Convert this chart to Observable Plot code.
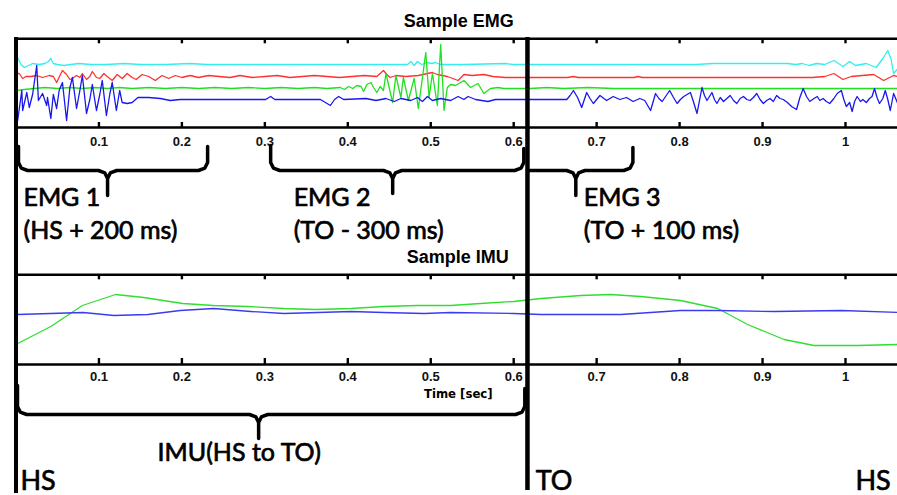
<!DOCTYPE html>
<html>
<head>
<meta charset="utf-8">
<script src="https://cdn.jsdelivr.net/npm/d3@7"></script>
<script src="https://cdn.jsdelivr.net/npm/@observablehq/plot@0.6"></script>
<style>
  html, body { margin: 0; padding: 0; background: #fff; }
  #chart svg { display: block; }
</style>
</head>
<body>
<div id="chart"></div>
<script>
// ---------- DATA ----------
// EMG channels: [time in ms, deviation from the channel's resting level]
const emgCyan = [[0,11],[3,5],[6,0],[10,-3],[15,-1],[20,1],[28,0],[35,1],[39,3],[42,6],[45,1],[50,0],[58,-1],[66,0],[76,1],[90,0],[110,0],[130,1],[150,0],[180,0],[210,1],[230,0],[300,0],[400,0],[472,0],[476,3],[480,-1],[484,3],[489,0],[496,2],[501,1],[506,2],[511,0],[540,0],[590,1],[600,0],[820,0],[840,1],[930,1],[940,0],[948,1],[956,-1],[965,1],[975,0],[986,4],[997,-2],[1005,3],[1012,-1],[1025,1],[1037,-3],[1045,6],[1051,14],[1055,5],[1058,-9],[1063,-4]];
const emgRed = [[0,3],[4,3],[8,-2],[12,0],[18,0],[25,1],[32,-1],[40,1],[45,0],[49,-6],[53,1],[56,6],[61,2],[65,-3],[68,-2],[73,1],[77,-1],[80,3],[85,-3],[89,0],[92,5],[97,-1],[101,-2],[106,3],[110,0],[116,-4],[122,2],[128,-2],[134,3],[140,-1],[145,-3],[152,2],[160,0],[168,-4],[176,1],[184,-2],[192,1],[200,-1],[210,1],[220,-1],[232,1],[245,0],[258,-1],[270,1],[285,-1],[300,0],[315,1],[330,-1],[345,0],[360,1],[375,0],[390,-1],[405,0],[420,1],[435,0],[443,6],[447,2],[451,-1],[458,1],[470,0],[485,1],[496,3],[502,4],[508,2],[520,0],[533,-4],[540,2],[550,1],[564,2],[575,0],[590,-1],[620,-1],[665,-1],[672,0],[678,-1],[745,-1],[750,0],[755,-1],[960,-1],[975,0],[986,3],[997,-3],[1007,0],[1020,1],[1034,2],[1046,-4],[1058,1],[1063,0]];
const emgGreen = [[0,-2],[10,-1],[22,0],[35,1],[50,0],[65,1],[80,0],[95,1],[110,0],[125,1],[140,0],[160,1],[180,0],[200,1],[220,0],[240,1],[260,0],[280,1],[300,0],[320,1],[340,0],[360,1],[375,0],[391,1],[396,-1],[401,2],[406,0],[411,3],[416,2],[419,-3],[423,4],[428,6],[431,1],[435,-4],[439,2],[443,-2],[446,15],[454,-14],[458,13],[464,-9],[467,11],[473,-12],[480,10],[485,-20],[494,36],[498,-9],[502,15],[508,-17],[512,44],[516,-22],[520,1],[524,4],[530,3],[536,6],[540,8],[548,1],[557,5],[564,-5],[572,0],[581,1],[588,0],[620,0],[640,1],[660,0],[690,1],[720,0],[1063,0]];
const emgBlue = [[0,0],[2,-21],[7,9],[8,-11],[13,7],[16,-8],[20,5],[25,34],[27,-1],[32,6],[37,-6],[38,2],[42,-19],[45,5],[49,-9],[52,9],[56,17],[61,-21],[65,12],[68,22],[73,-9],[77,9],[80,24],[85,-14],[89,0],[92,15],[97,-11],[101,5],[104,19],[109,-16],[113,5],[116,17],[121,-11],[125,9],[128,-3],[134,-4],[140,-3],[147,2],[160,2],[174,1],[186,-1],[198,0],[259,0],[301,0],[307,3],[312,0],[367,0],[379,-6],[384,0],[389,3],[395,0],[422,1],[434,-1],[446,1],[456,-2],[464,1],[476,-1],[484,2],[490,-2],[496,3],[502,-1],[512,1],[524,-1],[533,3],[540,0],[545,3],[554,0],[569,-2],[578,0],[609,0],[657,0],[664,0],[668,4],[672,9],[677,2],[682,-8],[688,7],[692,1],[696,-4],[704,4],[712,-1],[720,3],[728,0],[736,2],[744,-2],[752,1],[758,-1],[765,-11],[771,6],[775,1],[779,-2],[788,9],[792,3],[797,-4],[801,0],[805,3],[813,7],[817,-3],[821,-14],[827,12],[830,4],[833,-1],[839,7],[842,0],[845,-4],[849,2],[853,-2],[857,1],[861,4],[865,-1],[869,-4],[873,1],[877,3],[881,0],[885,-1],[889,2],[893,6],[897,0],[901,-4],[905,-1],[909,1],[913,-2],[917,4],[921,1],[925,0],[930,-3],[935,-7],[941,-10],[945,2],[949,11],[953,3],[957,-2],[962,1],[966,3],[969,-1],[973,1],[977,-2],[981,-4],[986,1],[990,6],[995,9],[998,0],[1001,-7],[1005,-3],[1008,-12],[1011,-2],[1014,3],[1018,-2],[1021,0],[1025,-3],[1029,1],[1032,3],[1035,11],[1038,2],[1041,-4],[1045,1],[1048,9],[1051,0],[1054,-11],[1058,6],[1063,-4]];
const emgNames = ["cyan", "red", "green", "blue"];
const emgColors = ["#33eeee", "#ff3030", "#20e020", "#1818ee"];
const emgLevels = [63, 51, 39, 28];   // resting level of each channel in the EMG panel

// IMU channels: [time in ms, value]
const imuGreen = [[0,21],[2,21],[42,38],[80,59],[120,70],[154,67],[201,61],[238,59],[279,58],[323,56],[361,55],[404,56],[443,58],[484,59],[524,59],[560,61],[600,63],[633,66],[681,69],[717,70],[753,68],[801,64],[846,56],[882,40],[926,25],[962,19],[1015,19],[1063,20]];
const imuBlue = [[0,50],[2,50],[81,52],[118,49],[159,50],[198,54],[238,56],[283,53],[323,51],[364,52],[404,53],[443,52],[492,51],[524,52],[600,51],[633,50],[729,50],[801,54],[846,54],[914,53],[995,54],[1063,52]];
const imuColors = ["#30dd30", "#3a3af0"];

// Axis ticks
const tickValues = [0.1, 0.2, 0.3, 0.4, 0.5, 0.6, 0.7, 0.8, 0.9, 1.0];
const tickLabels = ["0.1", "0.2", "0.3", "0.4", "0.5", "0.6", "0.7", "0.8", "0.9", "1"];

// Gait events (seconds)
const eventNames = ["HS", "TO", "HS"];
const eventTimes = [0, 0.6166, 1.0120];

// Windows (braces): start, tip, end (seconds)
const windowNames = ["EMG 1", "EMG 2", "EMG 3", "IMU(HS to TO)"];
const windowSub = ["(HS + 200 ms)", "(TO - 300 ms)", "(TO + 100 ms)", ""];
const windowStart = [0.0030, 0.3070, 0.6166, 0.0018];
const windowTip = [0.1104, 0.4541, 0.6749, 0.2925];
const windowEnd = [0.2310, 0.6122, 0.7437, 0.6134];
const windowLabelX = [0.0090, 0.3347, 0.6845, 0.1707];

// ---------- LAYOUT (vertical layout units, 0 = bottom) ----------
const tMax = 1.0627;
const EMG_TOP = 456.7, EMG_BOTTOM = 368;
const IMU_TOP = 220.7, IMU_BOTTOM = 131;
const EMG_TICK_LABEL_Y = 350, IMU_TICK_LABEL_Y = 115;
const braceLayout = [
  {yh: 325, yEnd0: 349, yEnd1: 349, yTip: 300},
  {yh: 325, yEnd0: 350, yEnd1: 347, yTip: 302},
  {yh: 325, yEnd0: null, yEnd1: 348, yTip: 300},
  {yh: 81, yEnd0: 110, yEnd1: 107, yTip: 57}
];
const labelY1 = [290, 290, 290, 35];
const labelY2 = [257, 257, 257, null];

// ---------- BUILD ----------
const emgRows = emgNames.map((name, k) =>
  (k === 0 ? emgCyan : k === 1 ? emgRed : k === 2 ? emgGreen : emgBlue)
    .map(([ms, v]) => ({t: ms / 1000, y: EMG_BOTTOM + emgLevels[k] + v})));
const imuRows = [imuGreen, imuBlue].map(s => s.map(([ms, v]) => ({t: ms / 1000, y: IMU_BOTTOM + v})));

const rx = 0.011, ry = 8;
const braceRows = [];
windowNames.forEach((name, i) => {
  const {yh, yEnd0, yEnd1, yTip} = braceLayout[i];
  const x0 = windowStart[i], xm = windowTip[i], x1 = windowEnd[i];
  const pts = [];
  if (yEnd0 != null) pts.push([x0, yEnd0], [x0, yh + ry], [x0 + rx * 0.3, yh + ry * 0.3], [x0 + rx, yh]);
  else pts.push([x0, yh]);
  pts.push([xm - rx, yh], [xm - rx * 0.3, yh - ry * 0.3], [xm, yh - ry], [xm, yTip],
           [xm, yh - ry], [xm + rx * 0.3, yh - ry * 0.3], [xm + rx, yh],
           [x1 - rx, yh], [x1 - rx * 0.3, yh + ry * 0.3], [x1, yh + ry], [x1, yEnd1]);
  pts.forEach(([x, y]) => braceRows.push({id: i, x, y}));
});

const bigFont = "Lato, 'Open Sans', Calibri, sans-serif";
const axisFont = "'Liberation Sans', Arial, Helvetica, sans-serif";
const narrowFont = "'Liberation Sans Narrow', 'Arial Narrow', 'DejaVu Sans Condensed', sans-serif";
const bigText = {fontFamily: bigFont, fill: "#000", stroke: "#000", strokeWidth: 0.7, textAnchor: "start", lineAnchor: "bottom"};

const tickIdx = tickValues.map((d, i) => i);

const marks = [
  // panel frames
  Plot.ruleY([EMG_TOP, EMG_BOTTOM, IMU_TOP, IMU_BOTTOM], {x1: 0, x2: tMax, stroke: "#000", strokeWidth: 2.6}),
  // ticks (inward at top and bottom of each panel)
  Plot.ruleX(tickValues, {y1: EMG_TOP, y2: EMG_TOP - 5, stroke: "#000", strokeWidth: 2.4}),
  Plot.ruleX(tickValues, {y1: EMG_BOTTOM, y2: EMG_BOTTOM + 5, stroke: "#000", strokeWidth: 2.4}),
  Plot.ruleX(tickValues, {y1: IMU_TOP, y2: IMU_TOP - 5, stroke: "#000", strokeWidth: 2.4}),
  Plot.ruleX(tickValues, {y1: IMU_BOTTOM, y2: IMU_BOTTOM + 6, stroke: "#000", strokeWidth: 2.4}),
  // tick labels
  Plot.text(tickIdx, {x: i => tickValues[i], y: EMG_TICK_LABEL_Y, text: i => tickLabels[i], lineAnchor: "bottom",
    fontFamily: axisFont, fontSize: 13, fontWeight: "bold", fill: "#111"}),
  Plot.text(tickIdx, {x: i => tickValues[i], y: IMU_TICK_LABEL_Y, text: i => tickLabels[i], lineAnchor: "bottom",
    fontFamily: axisFont, fontSize: 13, fontWeight: "bold", fill: "#111"}),
  // titles
  Plot.text(["Sample EMG"], {x: 0.5338, y: 469, text: d => d, lineAnchor: "bottom",
    fontFamily: axisFont, fontSize: 18, fontWeight: "bold", fill: "#000"}),
  Plot.text(["Sample IMU"], {x: 0.5326, y: 233, text: d => d, lineAnchor: "bottom",
    fontFamily: axisFont, fontSize: 18, fontWeight: "bold", fill: "#000"}),
  Plot.text(["Time [sec]"], {x: 0.5332, y: 98, text: d => d, lineAnchor: "bottom",
    fontFamily: narrowFont, fontSize: 13, fontWeight: "bold", fill: "#000"}),
  // EMG signals
  ...emgRows.map((rows, k) => Plot.line(rows, {x: "t", y: "y", stroke: emgColors[k], strokeWidth: 1.3})),
  // IMU signals
  ...imuRows.map((rows, k) => Plot.line(rows, {x: "t", y: "y", stroke: imuColors[k], strokeWidth: 1.3})),
  // gait event lines
  Plot.ruleX([eventTimes[0]], {y1: 2, y2: EMG_TOP + 1.3, stroke: "#000", strokeWidth: 4}),
  Plot.ruleX([eventTimes[1]], {y1: 5, y2: EMG_TOP + 1.3, stroke: "#000", strokeWidth: 4.5}),
  // braces
  Plot.line(braceRows, {x: "x", y: "y", z: "id", stroke: "#000", strokeWidth: 3.5, strokeLinejoin: "round", curve: "linear"}),
  // window labels
  Plot.text([0, 1, 2, 3], {x: i => windowLabelX[i], y: i => labelY1[i], text: i => windowNames[i], fontSize: 25, ...bigText}),
  Plot.text([0, 1, 2], {x: i => windowLabelX[i], y: i => labelY2[i], text: i => windowSub[i], fontSize: 25, ...bigText}),
  // event labels
  Plot.text([0, 1, 2], {x: i => [0.0054, 0.6266, eventTimes[2]][i], y: 6, text: i => eventNames[i], fontSize: 27, ...bigText})
];

const chart = Plot.plot({
  width: 897,
  height: 495,
  margin: 0,
  x: {domain: [0, tMax], range: [15.5, 897], axis: null},
  y: {domain: [0, 495], range: [495, 0], axis: null},
  style: {background: "#fff", overflow: "visible"},
  marks
});
document.getElementById("chart").append(chart);
</script>
</body>
</html>
